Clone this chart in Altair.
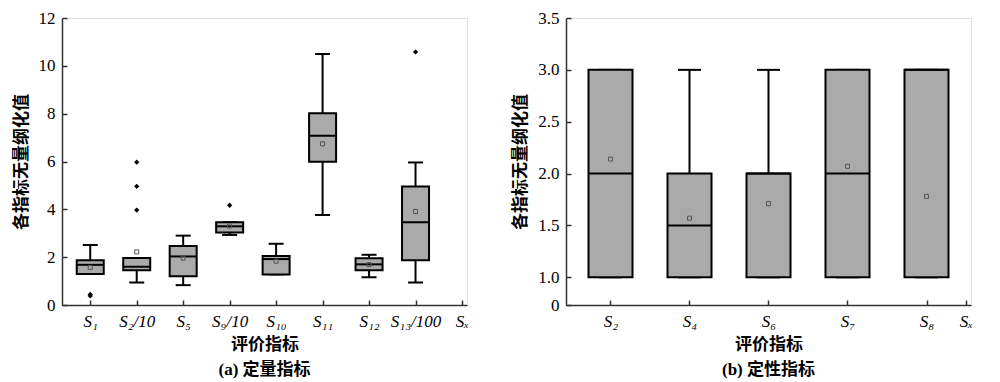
import json
import altair as alt
import pandas as pd

SERIF = "Times New Roman, Liberation Serif, DejaVu Serif, serif"
CJK = "Noto Sans CJK SC"
MIXED = "Times New Roman, Liberation Serif, Noto Sans CJK SC, serif"

# ---------- Panel (a): quantitative indicators ----------
a_labels = ["S₁", "S₂/10", "S₅", "S₉/10", "S₁₀", "S₁₁", "S₁₂", "S₁₃/100"]
a_q1 = [1.30, 1.45, 1.20, 3.03, 1.28, 5.99, 1.45, 1.87]
a_med = [1.68, 1.60, 2.03, 3.29, 1.92, 7.08, 1.70, 3.46]
a_q3 = [1.87, 1.96, 2.47, 3.46, 2.05, 8.02, 1.95, 4.95]
a_wlo = [1.30, 0.94, 0.83, 2.93, 1.28, 3.76, 1.16, 0.94]
a_whi = [2.51, 1.96, 2.90, 3.46, 2.56, 10.49, 2.10, 5.96]
a_mean = [1.57, 2.22, 1.96, 3.30, 1.83, 6.74, 1.69, 3.91]
a_out_cat = ["S₁", "S₁", "S₂/10", "S₂/10", "S₂/10", "S₉/10", "S₁₃/100"]
a_out_val = [0.44, 0.38, 5.97, 4.96, 3.97, 4.17, 10.58]
a_yticks = [0, 2, 4, 6, 8, 10, 12]

# ---------- Panel (b): qualitative indicators ----------
b_labels = ["S₂", "S₄", "S₆", "S₇", "S₈"]
b_q1 = [1.0, 1.0, 1.0, 1.0, 1.0]
b_med = [2.0, 1.5, 2.0, 2.0, 3.0]
b_q3 = [3.0, 2.0, 2.0, 3.0, 3.0]
b_wlo = [1.0, 1.0, 1.0, 1.0, 1.0]
b_whi = [3.0, 3.0, 3.0, 3.0, 3.0]
b_mean = [2.14, 1.57, 1.71, 2.07, 1.78]
b_yticks = [1.0, 1.5, 2.0, 2.5, 3.0, 3.5]

END_LABEL = "Sₓ"


def panel(labels, q1, med, q3, wlo, whi, mean, out_cat, out_val,
          x_end, ydomain, yvalues, ylabel_expr, box_w, cap_w, caption,
          ytitle_pad):
    pos = list(range(1, len(labels) + 1))
    df = pd.DataFrame({"pos": pos, "q1": q1, "med": med, "q3": q3,
                       "wlo": wlo, "whi": whi, "mean": mean})
    odf = pd.DataFrame({"pos": [labels.index(c) + 1 for c in out_cat],
                        "val": out_val})

    lab_js = json.dumps(labels, ensure_ascii=False)
    xaxis = alt.Axis(
        values=pos + [x_end],
        labelExpr=f"datum.value >= {x_end} ? '{END_LABEL}' : {lab_js}[datum.value - 1]",
        title="评价指标", titleFont=CJK, titleFontSize=17, titleFontWeight="bold",
        titleColor="black", titlePadding=7,
        labelFont=SERIF, labelFontSize=17, labelFontStyle="italic",
        labelColor="black", labelPadding=13, labelAngle=0,
        domainColor="#333", domainWidth=1.5, tickColor="#333", tickWidth=1.5,
        tickSize=alt.ExprRef(expr="-5"), grid=False, labelFlush=False,
    )
    yaxis = alt.Axis(
        values=yvalues, labelExpr=ylabel_expr,
        title="各指标无量纲化值", titleFont=CJK, titleFontSize=17,
        titleFontWeight="bold", titleColor="black", titlePadding=ytitle_pad,
        labelFont=SERIF, labelFontSize=17, labelColor="black", labelPadding=12,
        domainColor="#333", domainWidth=1.5, tickColor="#333", tickWidth=1.5,
        tickSize=alt.ExprRef(expr="-5"), grid=False, labelFlush=False,
    )
    xscale = alt.Scale(domain=[0.5, x_end], nice=False, zero=False)
    yscale = alt.Scale(domain=ydomain, nice=False, zero=False)

    X = alt.X("pos:Q", scale=xscale, axis=xaxis)

    def Y(f):
        return alt.Y(f"{f}:Q", scale=yscale, axis=yaxis)

    base = alt.Chart(df)
    lower = base.mark_rule(color="black", strokeWidth=2, opacity=1).encode(x=X, y=Y("wlo"), y2="q1:Q")
    upper = base.mark_rule(color="black", strokeWidth=2, opacity=1).encode(x=X, y=Y("q3"), y2="whi:Q")
    cap_lo = base.mark_tick(orient="horizontal", size=cap_w, thickness=2, color="black", opacity=1).encode(x=X, y=Y("wlo"))
    cap_hi = base.mark_tick(orient="horizontal", size=cap_w, thickness=2, color="black", opacity=1).encode(x=X, y=Y("whi"))
    box = base.mark_bar(size=box_w, fill="#aaaaaa", stroke="black", strokeWidth=2, opacity=1).encode(
        x=X, y=Y("q1"), y2="q3:Q")
    median = base.mark_tick(orient="horizontal", size=box_w, thickness=2, color="black", opacity=1).encode(x=X, y=Y("med"))
    mean_pt = base.mark_point(shape="square", size=16, filled=False, color="#555", strokeWidth=1, opacity=1).encode(
        x=X, y=Y("mean"))
    layers = [lower, upper, cap_lo, cap_hi, box, median, mean_pt]
    if len(odf):
        outl = alt.Chart(odf).mark_point(shape="diamond", filled=True, size=28, color="black", opacity=1).encode(
            x=X, y=Y("val"))
        layers.append(outl)
    return alt.layer(*layers).properties(
        width=405, height=287,
        title=alt.TitleParams(caption, orient="bottom", font=MIXED, fontSize=17,
                              fontWeight="bold", color="black", offset=10),
    )


left = panel(a_labels, a_q1, a_med, a_q3, a_wlo, a_whi, a_mean, a_out_cat, a_out_val,
             9, [0, 12], a_yticks, "format(datum.value, 'd')", 27, 15, "(a) 定量指标", 8)

b_zero = 0.733
right = panel(b_labels, b_q1, b_med, b_q3, b_wlo, b_whi, b_mean, [], [],
              5.5, [b_zero, 3.5], [b_zero] + b_yticks,
              f"datum.value < 0.9 ? '0' : format(datum.value, '.1f')", 44, 23, "(b) 定性指标", 8)

chart = alt.hconcat(left, right, spacing=41).properties(
    padding={"left": 3, "top": 0, "right": 5, "bottom": 5}
).configure_view(stroke=None).configure(background="white")

chart.save("out.html", embed_options={"renderer": "svg", "actions": False})
